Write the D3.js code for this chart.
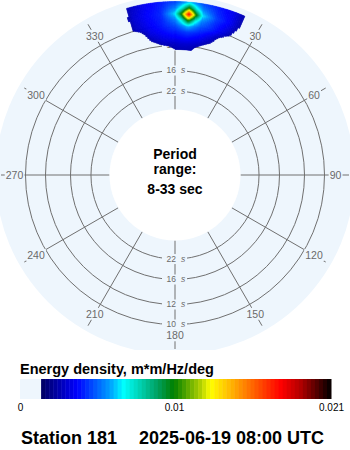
<!DOCTYPE html>
<html>
<head>
<meta charset="utf-8">
<script src="https://cdn.jsdelivr.net/npm/d3@7"></script>
<style>
  body { margin: 0; background: #fff; }
  svg { display: block; font-family: "Liberation Sans", Arial, sans-serif; }
</style>
</head>
<body>
<div id="chart"></div>
<script>
// Spectrum grid: frequency (Hz) rows x direction (deg, from north) columns
const freqs = [0.08, 0.085, 0.09, 0.095, 0.1, 0.105, 0.11, 0.115, 0.12];
const dirs = [-25, -20, -15, -10, -5, 0, 2.5, 5, 7.5, 10, 15, 20, 25, 30];
const energy = [
    [0, 0,      0,      0.0012, 0.0018, 0.0025, 0.0026, 0.0026, 0.0025, 0.0018, 0.0010, 0,      0,      0],
    [0, 0,      0.0006, 0.0020, 0.0027, 0.0029, 0.0030, 0.0030, 0.0029, 0.0027, 0.0018, 0.0006, 0,      0],
    [0, 0.0004, 0.0010, 0.0027, 0.0033, 0.0036, 0.0037, 0.0038, 0.0036, 0.0034, 0.0026, 0.0012, 0.0004, 0],
    [0, 0.0008, 0.0015, 0.0032, 0.0037, 0.0041, 0.0043, 0.0045, 0.0043, 0.0040, 0.0032, 0.0018, 0.0008, 0],
    [0, 0.0012, 0.0028, 0.0035, 0.0040, 0.0047, 0.0054, 0.0062, 0.0054, 0.0047, 0.0040, 0.0029, 0.0014, 0],
    [0, 0.0014, 0.0029, 0.0036, 0.0041, 0.0054, 0.0072, 0.0105, 0.0072, 0.0054, 0.0042, 0.0033, 0.0018, 0.0003],
    [0, 0.0015, 0.0030, 0.0037, 0.0042, 0.0065, 0.0105, 0.0172, 0.0105, 0.0065, 0.0045, 0.0036, 0.0021, 0.0006],
    [0, 0.0015, 0.0029, 0.0036, 0.0041, 0.0054, 0.0072, 0.0105, 0.0072, 0.0054, 0.0042, 0.0035, 0.0022, 0.0006],
    [0, 0.0014, 0.0028, 0.0035, 0.0040, 0.0046, 0.0053, 0.0062, 0.0053, 0.0046, 0.0040, 0.0034, 0.0022, 0.0006]
];
const cutoff = 0.0025;

const periodRings = [10, 12, 16, 22];
const compassTicks = [0, 30, 60, 90, 120, 150, 180, 210, 240, 270, 300, 330];
const periodText = ["Period", "range:", "8-33 sec"];

// colour map (jet-like, ending in black)
const colorStops = [0.00137, 0.00371, 0.00586, 0.00671, 0.00782, 0.00893, 0.00997, 0.01173, 0.01238, 0.01434, 0.01694, 0.01825, 0.0202];
const colorRange = ["#000060", "#0000ff", "#00a0ff", "#00ffff", "#00d0b0", "#00a060", "#008000", "#b0d000", "#ffff00", "#ff9000", "#ff0000", "#b00000", "#000000"];
const legendTicks = [0, 0.01, 0.0202];
const legendTickLabels = ["0", "0.01", "0.021"];
const legendTitle = "Energy density, m*m/Hz/deg";
const stationLabel = "Station 181";
const timeLabel = "2025-06-19 08:00 UTC";

const width = 350, height = 450;
const cx = 175, cy = 175;
const bg = "#eef6fd";
const gridColor = "#707070";

const svg = d3.select("#chart").append("svg")
    .attr("width", width)
    .attr("height", height);

const r = d3.scaleLinear().domain([0.03, 0.12]).range([65.5, 173.5]);
const color = d3.scaleLinear().domain(colorStops).range(colorRange).clamp(true);

const rad = a => a * Math.PI / 180;
const px = (a, R) => cx + R * Math.sin(rad(a));
const py = (a, R) => cy - R * Math.cos(rad(a));

svg.append("clipPath").attr("id", "plotclip")
    .append("rect").attr("x", 0).attr("y", 0).attr("width", 350).attr("height", 350);

const plot = svg.append("g").attr("clip-path", "url(#plotclip)");

// background disc
plot.append("circle")
    .attr("cx", cx).attr("cy", cy)
    .attr("r", r(0.125))
    .attr("fill", bg);

// period rings
plot.selectAll(".ring")
    .data(periodRings)
    .enter().append("circle")
    .attr("class", "ring")
    .attr("cx", cx).attr("cy", cy)
    .attr("r", d => r(1 / d))
    .attr("fill", "none")
    .attr("stroke", gridColor)
    .attr("stroke-width", 1);

// spokes
plot.selectAll(".spoke")
    .data(compassTicks)
    .enter().append("line")
    .attr("class", "spoke")
    .attr("x1", d => px(d, r(0.03)))
    .attr("y1", d => py(d, r(0.03)))
    .attr("x2", d => px(d, 174))
    .attr("y2", d => py(d, 174))
    .attr("stroke", gridColor)
    .attr("stroke-width", 1);

// compass labels with masks
const labR = 160.5;
const clab = plot.selectAll(".clab")
    .data(compassTicks)
    .enter().append("g")
    .attr("class", "clab")
    .attr("transform", d => `translate(${px(d, labR)},${py(d, labR)})`);
clab.append("text")
    .attr("text-anchor", "middle")
    .attr("dy", "0.36em")
    .attr("font-size", 10.5)
    .attr("fill", "#6a6a6a")
    .text(d => d);
clab.each(function() {
    const g = d3.select(this);
    const b = g.select("text").node().getBBox();
    g.insert("rect", "text")
        .attr("x", b.x - 1).attr("y", b.y)
        .attr("width", b.width + 2).attr("height", b.height)
        .attr("fill", bg);
});

// period labels on N and S spokes
const plabData = [];
periodRings.forEach(p => { plabData.push({ p, a: 0 }); plabData.push({ p, a: 180 }); });
const plab = plot.selectAll(".plab")
    .data(plabData)
    .enter().append("g")
    .attr("class", "plab")
    .attr("transform", d => `translate(${cx},${py(d.a, r(1 / d.p))})`);
plab.append("rect")
    .attr("x", -13).attr("y", -5)
    .attr("width", 25).attr("height", 10)
    .attr("fill", bg);
plab.append("text")
    .attr("x", 1).attr("dy", "0.35em")
    .attr("text-anchor", "end")
    .attr("font-size", 8.5)
    .attr("fill", "#6a6a6a")
    .text(d => d.p);
plab.append("text")
    .attr("x", 6).attr("dy", "0.35em")
    .attr("font-size", 8.5)
    .attr("font-style", "italic")
    .attr("fill", "#6a6a6a")
    .text("s");

// energy field, bilinear shading between grid nodes
const cells = [];
const n = 8;
for (let i = 0; i < freqs.length - 1; i++) {
    for (let j = 0; j < dirs.length - 1; j++) {
        const v00 = energy[i][j], v01 = energy[i][j + 1];
        const v10 = energy[i + 1][j], v11 = energy[i + 1][j + 1];
        const df = freqs[i + 1] - freqs[i], dd = dirs[j + 1] - dirs[j];
        for (let a = 0; a < n; a++) {
            for (let b = 0; b < n; b++) {
                const u = (a + 0.5) / n, w = (b + 0.5) / n;
                const v = (1 - u) * (1 - w) * v00 + (1 - u) * w * v01 + u * (1 - w) * v10 + u * w * v11;
                if (v < cutoff) continue;
                cells.push({
                    f0: freqs[i] + df * a / n, f1: freqs[i] + df * (a + 1) / n,
                    d0: dirs[j] + dd * b / n, d1: dirs[j] + dd * (b + 1) / n,
                    v
                });
            }
        }
    }
}
const arc = d3.arc()
    .innerRadius(d => r(d.f0))
    .outerRadius(d => r(d.f1))
    .startAngle(d => rad(d.d0))
    .endAngle(d => rad(d.d1));
plot.append("g")
    .attr("transform", `translate(${cx},${cy})`)
    .selectAll("path")
    .data(cells)
    .enter().append("path")
    .attr("d", arc)
    .attr("fill", d => color(d.v))
    .attr("stroke", d => color(d.v))
    .attr("stroke-width", 0.5);

// inner hole
plot.append("circle")
    .attr("cx", cx).attr("cy", cy)
    .attr("r", r(0.03))
    .attr("fill", "#fff");

// centre text
const ctext = svg.append("text")
    .attr("text-anchor", "middle")
    .attr("font-weight", "bold")
    .attr("font-size", 14)
    .attr("fill", "#000");
[159, 174, 194].forEach((y, i) => {
    ctext.append("tspan").attr("x", cx).attr("y", y).text(periodText[i]);
});

// legend
svg.append("text")
    .attr("x", 20).attr("y", 374)
    .attr("font-size", 14.5)
    .attr("font-weight", "bold")
    .text(legendTitle);

const lx = d3.scaleLinear().domain([0, legendTicks[2]]).range([20, 331]);
const lg = svg.append("g");
lg.append("rect")
    .attr("x", lx(0)).attr("y", 379)
    .attr("width", lx(colorStops[0]) - lx(0)).attr("height", 20)
    .attr("fill", bg);
const steps = 72;
const stepVals = d3.range(steps).map(k => colorStops[0] + (legendTicks[2] - colorStops[0]) * k / steps);
const stepW = (lx(legendTicks[2]) - lx(colorStops[0])) / steps;
lg.selectAll(".step")
    .data(stepVals)
    .enter().append("rect")
    .attr("class", "step")
    .attr("x", d => lx(d))
    .attr("y", 379)
    .attr("width", stepW + 0.5)
    .attr("height", 20)
    .attr("fill", d => color(d + (legendTicks[2] - colorStops[0]) / steps / 2));

const axis = svg.append("g")
    .attr("transform", "translate(0,401)")
    .call(d3.axisBottom(lx).tickValues(legendTicks).tickFormat((d, i) => legendTickLabels[i]).tickSize(0));
axis.select(".domain").remove();
axis.selectAll("text")
    .attr("font-family", "Liberation Sans, Arial, sans-serif")
    .attr("font-size", 10)
    .attr("fill", "#000");

// footer
svg.append("text")
    .attr("x", 21).attr("y", 444)
    .attr("font-size", 18)
    .attr("font-weight", "bold")
    .text(stationLabel);
svg.append("text")
    .attr("x", 139).attr("y", 444)
    .attr("font-size", 18)
    .attr("font-weight", "bold")
    .text(timeLabel);
</script>
</body>
</html>
